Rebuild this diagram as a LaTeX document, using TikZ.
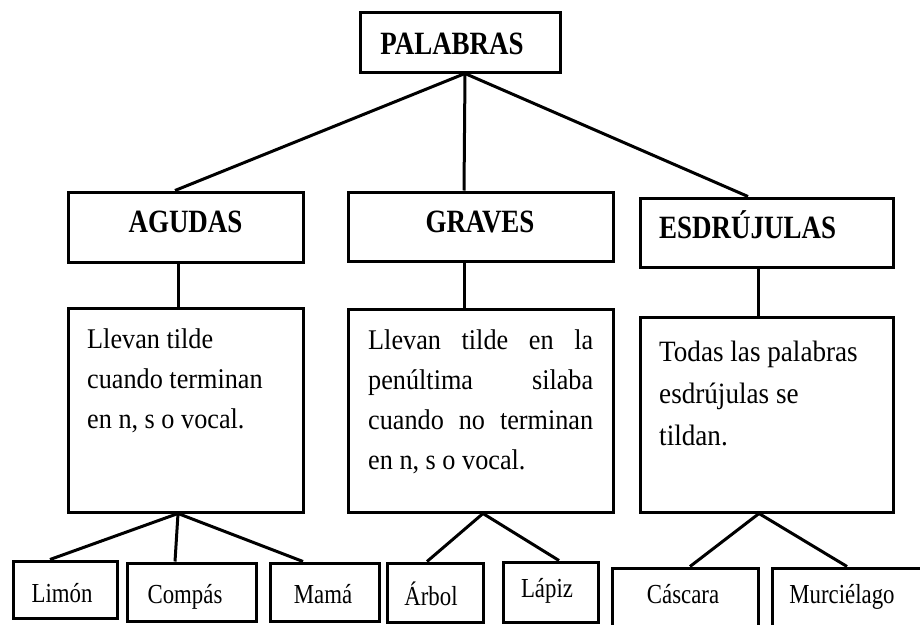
\documentclass[tikz,border=0pt]{standalone}
\usepackage{fontspec}
\setmainfont{Liberation Serif}
\newfontfamily\hfont{Liberation Serif}[FakeStretch=0.83]
\newfontfamily\dfont{Liberation Serif}[FakeStretch=0.92]
\newfontfamily\lfont{Liberation Serif}[FakeStretch=0.83]
\begin{document}
\begin{tikzpicture}[x=1pt,y=-1pt,
  box/.style={draw, line width=3pt, inner sep=0pt},
  conn/.style={line width=3pt},
  headtxt/.style={inner sep=0pt, font={\hfont\bfseries\fontsize{32.5}{38}\selectfont}},
  desctxt/.style={inner sep=0pt, anchor=base west, font={\dfont\fontsize{28.5}{40}\selectfont}},
  desctxtE/.style={inner sep=0pt, anchor=base west, font={\dfont\fontsize{29.5}{42}\selectfont}},
  leaftxt/.style={inner sep=0pt, anchor=base, font={\lfont\fontsize{27.5}{30}\selectfont}}]
\useasboundingbox (0,0) rectangle (920,624);
\clip (0,0) rectangle (920,624);
\fill[white] (0,0) rectangle (920,624);
% boxes
\node[box, minimum width=200pt, minimum height=60pt] (palabras) at (460,42) {};
\node[box, minimum width=235pt, minimum height=70pt] (agudas) at (185.5,227) {};
\node[box, minimum width=265pt, minimum height=69pt] (graves) at (480.5,226.5) {};
\node[box, minimum width=253pt, minimum height=69pt] (esdr) at (766.5,232.5) {};
\node[box, minimum width=235pt, minimum height=204pt] (dA) at (185.5,410) {};
\node[box, minimum width=265pt, minimum height=203pt] (dG) at (480.5,410.5) {};
\node[box, minimum width=253pt, minimum height=195pt] (dE) at (766.5,414.5) {};
\node[box, minimum width=104pt, minimum height=57pt] (limon) at (65,589.5) {};
\node[box, minimum width=129pt, minimum height=58pt] (compas) at (191.5,592) {};
\node[box, minimum width=109pt, minimum height=58pt] (mama) at (324.5,592) {};
\node[box, minimum width=96pt, minimum height=59pt] (arbol) at (435,592.5) {};
\node[box, minimum width=95pt, minimum height=60pt] (lapiz) at (550.5,592) {};
\node[box, minimum width=146pt, minimum height=82pt] (cascara) at (685.5,609) {};
\node[box, minimum width=158pt, minimum height=82pt] (murc) at (851,609) {};
% texts
\node[headtxt, anchor=base] (palabras-t) at (452,54) {PALABRAS};
\node[headtxt, anchor=base] (agudas-t) at (185.5,232) {AGUDAS};
\node[headtxt, anchor=base] (graves-t) at (480,232) {GRAVES};
\node[headtxt, anchor=base west] (esdr-t) at (659,238) {ESDRÚJULAS};
\node[desctxt] (dA-t) at (87,348) {\parbox[t]{210pt}{Llevan tilde\\ cuando terminan\\ en n, s o vocal.}};
\node[desctxt] (dG-t) at (368,349) {\parbox[t]{225pt}{\makebox[225pt][s]{Llevan tilde en la}\\ \makebox[225pt][s]{penúltima silaba}\\ \makebox[225pt][s]{cuando no terminan}\\ en n, s o vocal.}};
\node[desctxtE] (dE-t) at (659,361) {\parbox[t]{220pt}{Todas las palabras\\ esdrújulas se\\ tildan.}};
\node[leaftxt] (limon-t) at (62,602) {Limón};
\node[leaftxt] (compas-t) at (185,603) {Compás};
\node[leaftxt] (mama-t) at (323,603) {Mamá};
\node[leaftxt] (arbol-t) at (431,605) {Árbol};
\node[leaftxt] (lapiz-t) at (547,597) {Lápiz};
\node[leaftxt] (cascara-t) at (683,603) {Cáscara};
\node[leaftxt] (murc-t) at (842,603) {Murciélago};
% connectors
\draw[conn] ([xshift=5pt]palabras.south) -- ([xshift=-10.5pt]agudas.north);
\draw[conn] ([xshift=5pt]palabras.south) -- ([xshift=-16.5pt]graves.north);
\draw[conn] ([xshift=5pt]palabras.south) -- ([xshift=-18.5pt]esdr.north);
\draw[conn] ([xshift=-7.5pt]agudas.south) -- ([xshift=-7.5pt]dA.north);
\draw[conn] ([xshift=-16.5pt]graves.south) -- ([xshift=-16.5pt]dG.north);
\draw[conn] ([xshift=-8.5pt]esdr.south) -- ([xshift=-8.5pt]dE.north);
\draw[conn] ([xshift=-7.5pt]dA.south) -- ([xshift=-15pt]limon.north);
\draw[conn] ([xshift=-7.5pt]dA.south) -- ([xshift=-16.5pt]compas.north);
\draw[conn] ([xshift=-7.5pt]dA.south) -- ([xshift=-21.5pt]mama.north);
\draw[conn] ([xshift=2.5pt]dG.south) -- ([xshift=-8pt]arbol.north);
\draw[conn] ([xshift=2.5pt]dG.south) -- ([xshift=8.5pt]lapiz.north);
\draw[conn] ([xshift=-7.5pt]dE.south) -- ([xshift=4.5pt]cascara.north);
\draw[conn] ([xshift=-7.5pt]dE.south) -- ([xshift=-4pt]murc.north);
\end{tikzpicture}
\end{document}
